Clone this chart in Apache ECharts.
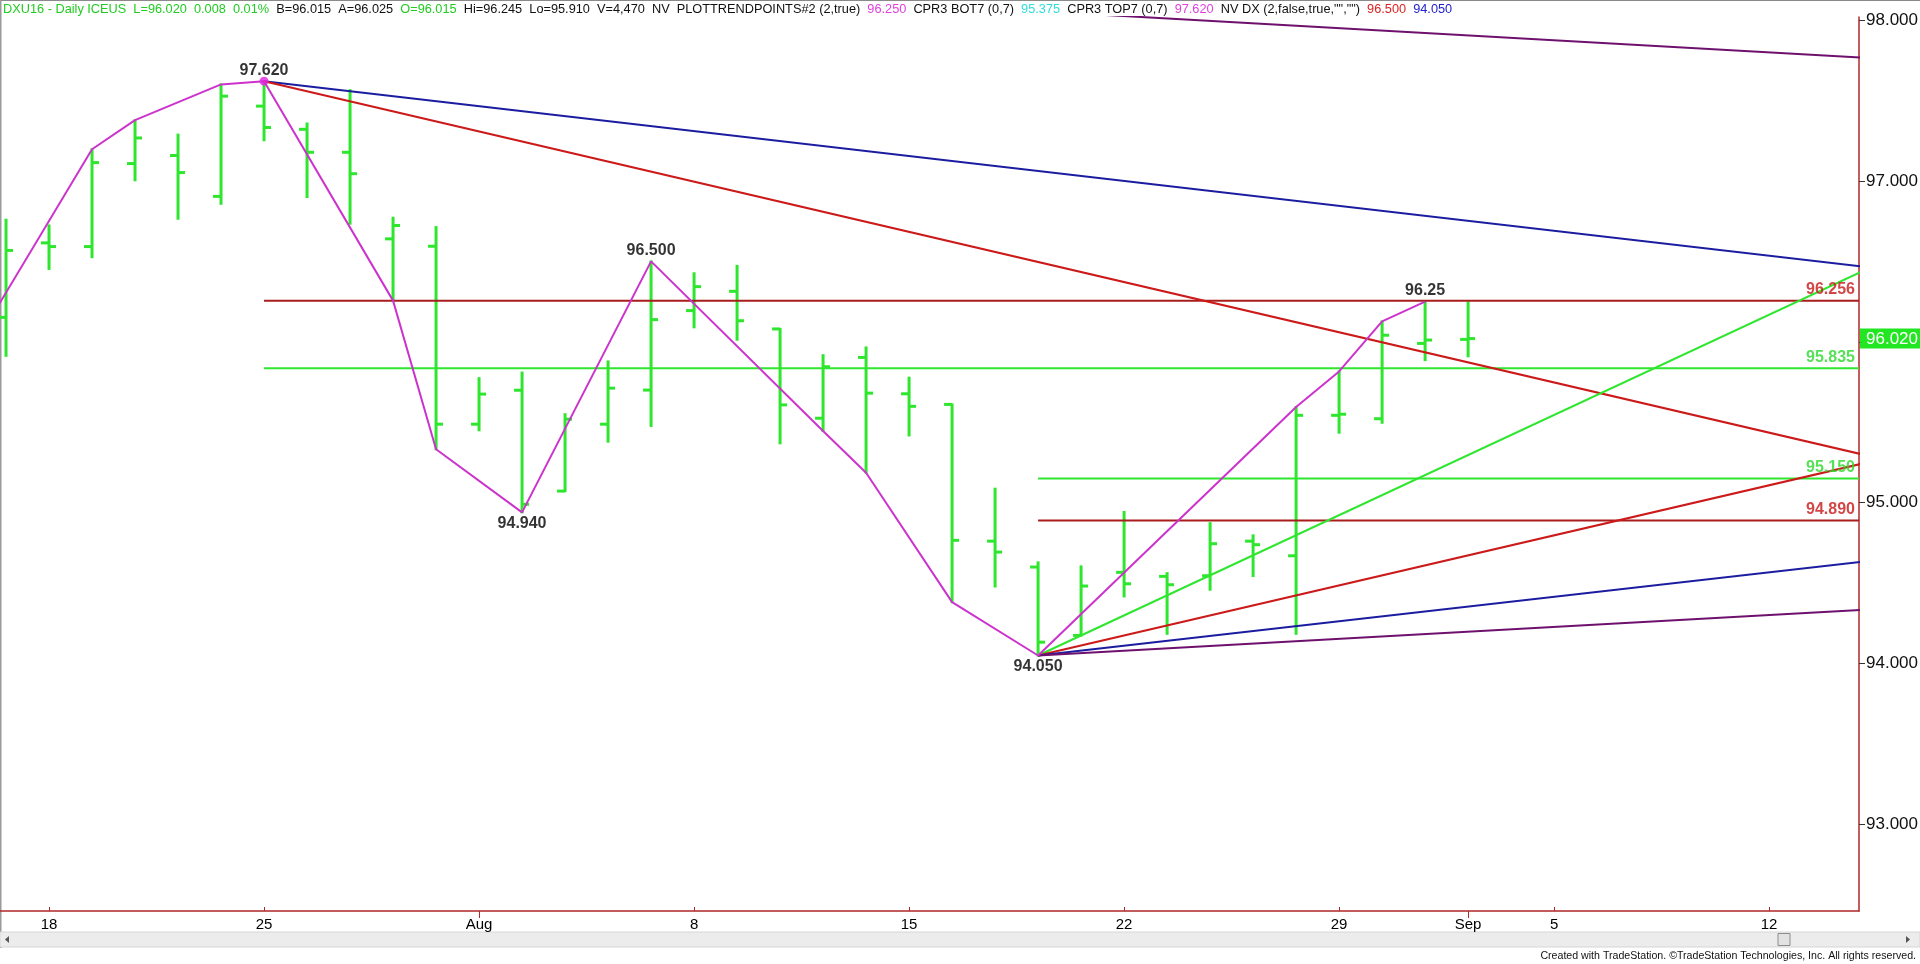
<!DOCTYPE html>
<html><head><meta charset="utf-8">
<script src="https://cdn.jsdelivr.net/npm/echarts@6/dist/echarts.min.js"></script>
<style>html,body{margin:0;padding:0;background:#fff;overflow:hidden}#c{width:1920px;height:964px;}</style>
</head><body><div id="c"></div>
<script>
// ---------- DATA ----------
const allDays = ['Jul 14','Jul 15','Jul 18','Jul 19','Jul 20','Jul 21','Jul 22','Jul 25','Jul 26','Jul 27','Jul 28','Jul 29',
  'Aug 1','Aug 2','Aug 3','Aug 4','Aug 5','Aug 8','Aug 9','Aug 10','Aug 11','Aug 12','Aug 15','Aug 16','Aug 17','Aug 18','Aug 19',
  'Aug 22','Aug 23','Aug 24','Aug 25','Aug 26','Aug 29','Aug 30','Aug 31','Sep 1','Sep 2','Sep 5','Sep 6','Sep 7','Sep 8','Sep 9',
  'Sep 12','Sep 13','Sep 14','Sep 15','Sep 16'];
const days = ['Jul 15','Jul 18','Jul 19','Jul 20','Jul 21','Jul 22','Jul 25','Jul 26','Jul 27','Jul 28','Jul 29',
  'Aug 1','Aug 2','Aug 3','Aug 4','Aug 5','Aug 8','Aug 9','Aug 10','Aug 11','Aug 12','Aug 15','Aug 16','Aug 17','Aug 18','Aug 19',
  'Aug 22','Aug 23','Aug 24','Aug 25','Aug 26','Aug 29','Aug 30','Aug 31','Sep 1'];
const openP  = [96.152,96.615,96.592,97.108,97.158,96.904,97.465,97.321,97.178,96.640,96.594,
  95.488,95.699,95.072,95.488,95.700,96.194,96.314,96.080,95.525,95.903,95.677,95.611,94.761,94.600,94.175,
  94.567,94.542,94.546,94.761,94.670,95.543,95.522,95.990,96.015];
const highP  = [96.759,96.723,97.197,97.378,97.288,97.600,97.620,97.357,97.564,96.771,96.713,
  95.774,95.809,95.550,95.878,96.500,96.426,96.472,96.080,95.917,95.965,95.777,95.611,95.087,94.629,94.604,
  94.942,94.562,94.873,94.797,95.595,95.816,96.127,96.250,96.245];
const lowP   = [95.913,96.453,96.526,97.004,96.765,96.858,97.253,96.900,96.734,96.256,95.332,
  95.450,94.940,95.072,95.379,95.477,96.090,96.013,95.369,95.446,95.186,95.418,94.382,94.479,94.050,94.175,
  94.417,94.185,94.459,94.544,94.185,95.435,95.497,95.886,95.910];
const closeP = [96.568,96.592,97.114,97.267,97.052,97.527,97.332,97.178,97.045,96.723,95.488,
  95.675,94.990,95.519,95.712,96.138,96.343,96.131,95.608,95.845,95.681,95.599,94.766,94.693,94.133,94.482,
  94.496,94.490,94.745,94.739,95.543,95.550,96.041,96.011,96.020];

const tickDays   = ['Jul 18','Jul 25','Aug 1','Aug 8','Aug 15','Aug 22','Aug 29','Sep 1','Sep 5','Sep 12'];
const tickLabels = ['18','25','Aug','8','15','22','29','Sep','5','12'];
const monthDays  = ['Aug 1','Sep 1'];
const priceTicks = [93, 94, 95, 96, 97, 98];

const zigDays = ['Jul 14','Jul 19','Jul 20','Jul 22','Jul 25','Jul 28','Jul 29','Aug 2','Aug 5','Aug 11','Aug 12','Aug 16','Aug 18','Aug 26','Aug 29','Aug 30','Aug 31'];
const zigVals = [95.86,97.197,97.378,97.600,97.620,96.256,95.332,94.940,96.500,95.446,95.186,94.382,94.050,95.595,95.816,96.127,96.250];

const pivotDays  = ['Jul 25','Aug 2','Aug 5','Aug 18','Aug 31'];
const pivotVals  = [97.620,94.940,96.500,94.050,96.25];
const pivotTexts = ['97.620','94.940','96.500','94.050','96.25'];
const pivotAbove = [true,false,true,false,true];

const levelVals  = [96.256,95.835,95.150,94.890];
const levelFrom  = ['Jul 25','Jul 25','Aug 18','Aug 18'];
const levelTexts = ['96.256','95.835','95.150','94.890'];

const fanFromDay = ['Jul 25','Jul 25','Aug 18','Aug 18','Aug 18','Aug 18','Aug 18'];
const fanFromVal = [97.62,97.62,94.05,94.05,94.05,94.05,98.055];
const fanToDay   = 'Sep 15';
const fanToVal   = [96.442,95.248,96.542,95.295,94.659,94.346,97.754];

const headerTexts = ['DXU16 - Daily ICEUS  L=96.020  0.008  0.01%','B=96.015  A=96.025','O=96.015',
  'Hi=96.245  Lo=95.910  V=4,470  NV  PLOTTRENDPOINTS#2 (2,true)','96.250','CPR3 BOT7 (0,7)','95.375',
  'CPR3 TOP7 (0,7)','97.620','NV DX (2,false,true,"","")','96.500','94.050'];
const footerText = 'Created with TradeStation. \u00A9TradeStation Technologies, Inc. All rights reserved.';

// ---------- STYLE / LAYOUT ----------
const GREEN = '#2ee62e', PINK = '#cc33cc', BLUE = '#1c1ca0', RED = '#cc1a1a', DRED = '#a81c1c', PURPLE = '#6e106e', AXIS = '#b02828';
const headerColors = ['#22cc22','#111','#22cc22','#111','#e040e0','#111','#33dddd','#111','#e040e0','#111','#dd2222','#2222cc'];
const levelColors = [DRED, GREEN, GREEN, DRED];
const fanColors = [BLUE, RED, GREEN, RED, BLUE, PURPLE, PURPLE];
const X_MIN = -0.14, X_MAX = 43.09, Y_MIN = 92.462, Y_MAX = 98.019;
const FONT = "'Liberation Sans', Arial, sans-serif";
const HEADER_W = 1450, FOOTER_W = 376;

const idx = d => allDays.indexOf(d) - 1;
const lastClose = closeP[closeP.length - 1];

const mctx = document.createElement('canvas').getContext('2d');
function fitSize(text, target, fam) { mctx.font = '20px ' + fam; return 20 * target / mctx.measureText(text).width; }
const headerPlain = headerTexts.join('  ');
const headerSize = fitSize(headerPlain, HEADER_W, FONT);
const footerSize = fitSize(footerText, FOOTER_W, FONT);
const headerRich = {};
headerColors.forEach((c, i) => { headerRich['h' + i] = {fill: c, fontSize: headerSize, fontFamily: FONT}; });

const ohlc = days.map((d, i) => [idx(d), openP[i], highP[i], lowP[i], closeP[i]]);

const series = [];
series.push({
  type: 'custom', z: 2,
  data: ohlc,
  encode: {x: 0, y: [1, 2, 3, 4]},
  renderItem: function (params, api) {
    const x = api.value(0);
    const o = api.coord([x, api.value(1)]);
    const h = api.coord([x, api.value(2)]);
    const l = api.coord([x, api.value(3)]);
    const c = api.coord([x, api.value(4)]);
    const st = {stroke: GREEN, lineWidth: 3};
    return {type: 'group', children: [
      {type: 'line', shape: {x1: h[0], y1: h[1] - 1, x2: l[0], y2: l[1] + 1}, style: st},
      {type: 'line', shape: {x1: o[0] - 8, y1: o[1], x2: o[0], y2: o[1]}, style: st},
      {type: 'line', shape: {x1: c[0], y1: c[1], x2: c[0] + 7, y2: c[1]}, style: st}
    ]};
  }
});
levelVals.forEach((v, k) => {
  series.push({type: 'line', z: 3, symbol: 'none', silent: true, clip: true,
    lineStyle: {color: levelColors[k], width: 2},
    data: [[idx(levelFrom[k]), v], [X_MAX, v]]});
});
fanFromVal.forEach((v, k) => {
  series.push({type: 'line', z: 4, symbol: 'none', silent: true, clip: true,
    lineStyle: {color: fanColors[k], width: 2},
    data: [[idx(fanFromDay[k]), v], [idx(fanToDay), fanToVal[k]]]});
});
series.push({type: 'line', z: 5, symbol: 'none', silent: true, clip: true,
  lineStyle: {color: PINK, width: 2},
  data: zigDays.map((d, i) => [idx(d), zigVals[i]])});
series.push({type: 'scatter', z: 6, symbolSize: 9, itemStyle: {color: '#e020e0'},
  data: [[idx(pivotDays[0]), pivotVals[0]]]});
series.push({type: 'scatter', z: 7, symbolSize: 0, clip: false, silent: true,
  data: pivotDays.map((d, i) => ({value: [idx(d), pivotVals[i]],
    label: {show: true, formatter: pivotTexts[i], position: pivotAbove[i] ? 'top' : 'bottom', distance: 3,
      color: '#000', fontWeight: 'bold', fontSize: 16, fontFamily: FONT}}))});
series.push({type: 'scatter', z: 7, symbolSize: 0, clip: false, silent: true,
  data: levelVals.map((v, i) => ({value: [X_MAX, v],
    label: {show: true, formatter: levelTexts[i], position: 'left', distance: 4, offset: [0, -11],
      color: levelColors[i] === GREEN ? '#2ad82a' : '#c81818', fontWeight: 'bold', fontSize: 16, fontFamily: FONT}}))});

const tickX = tickDays.map(idx);
const monthX = monthDays.map(idx);
const weekX = tickX.filter(v => monthX.indexOf(v) < 0);
const yLabelVals = priceTicks.filter(v => Math.abs(v - lastClose) > 0.2).concat([lastClose]);

const option = {
  animation: false,
  backgroundColor: '#fff',
  grid: {left: 0, right: 61, top: 17, bottom: 53, containLabel: false, outerBoundsMode: 'none'},
  xAxis: [{type: 'value', min: X_MIN, max: X_MAX, splitLine: {show: false},
    axisLine: {show: true, onZero: false, lineStyle: {color: AXIS, width: 1.5}},
    axisTick: {show: true, inside: true, length: 4, lineStyle: {color: AXIS}, customValues: weekX},
    axisLabel: {customValues: tickX, margin: 6, color: '#000', fontSize: 15, fontFamily: FONT,
      formatter: v => { const k = tickX.indexOf(Math.round(v)); return k >= 0 ? tickLabels[k] : ''; }}},
   {type: 'value', position: 'bottom', min: X_MIN, max: X_MAX, splitLine: {show: false},
    axisLine: {show: false, onZero: false},
    axisTick: {show: true, inside: false, length: 7, lineStyle: {color: AXIS}, customValues: monthX},
    axisLabel: {show: false}}],
  yAxis: {type: 'value', position: 'right', min: Y_MIN, max: Y_MAX, splitLine: {show: false},
    axisLine: {show: true, onZero: false, lineStyle: {color: AXIS, width: 1.5}},
    axisTick: {show: true, inside: false, length: 6, lineStyle: {color: '#333'}, customValues: priceTicks},
    axisLabel: {customValues: yLabelVals, margin: 1, fontSize: 17, fontFamily: FONT,
      formatter: v => Math.abs(v - lastClose) < 1e-6 ? '{last|' + v.toFixed(3) + '}' : '{n|' + v.toFixed(3) + '}',
      rich: {
        n: {color: '#111', fontSize: 17, fontFamily: FONT, padding: [0, 0, 0, 6]},
        last: {color: '#fff', fontSize: 17, fontFamily: FONT, backgroundColor: '#22e622', padding: [2, 8, 1, 6]}
      }}},
  series: series,
  graphic: [
    {type: 'rect', shape: {x: 0, y: 0, width: 1920, height: 1}, style: {fill: '#8a8a8a'}, silent: true},
    {type: 'rect', shape: {x: 0, y: 0, width: 1.5, height: 948}, style: {fill: '#9a9a9a'}, silent: true},
    {type: 'rect', shape: {x: 0, y: 932, width: 1920, height: 15}, style: {fill: '#ececec', stroke: '#d6d6d6'}, silent: true},
    {type: 'rect', shape: {x: 1778, y: 933.5, width: 12, height: 12}, style: {fill: '#e2e2e2', stroke: '#8c8c8c', lineWidth: 1}, silent: true},
    {type: 'polygon', shape: {points: [[9, 936], [9, 943], [5, 939.5]]}, style: {fill: '#555'}, silent: true},
    {type: 'polygon', shape: {points: [[1906, 936], [1906, 943], [1910, 939.5]]}, style: {fill: '#555'}, silent: true},
    {type: 'text', right: 4, top: 951, silent: true,
      style: {text: footerText, fill: '#111', fontSize: footerSize, fontFamily: FONT}},
    {type: 'text', left: 3, top: 3, silent: true, z: 100,
      style: {text: headerTexts.map((t, i) => '{h' + i + '|' + t + '}').join('  '), rich: headerRich,
        fontSize: headerSize, fontFamily: FONT}}
  ]
};

const chart = echarts.init(document.getElementById('c'), null, {renderer: 'canvas'});
chart.setOption(option);
</script>
</body></html>
